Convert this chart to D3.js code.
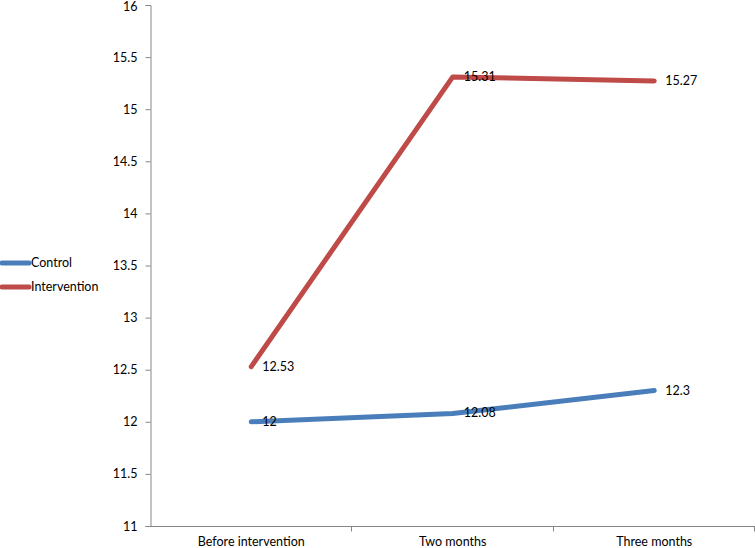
<!DOCTYPE html>
<meta charset="utf-8">
<style>
 body { margin: 0; background: #fff; }
 text {
   font-family: Lato, "Open Sans", sans-serif;
   font-size: 12.5px;
   fill: #000;
 }
 .axis path, .axis line { stroke: #868686; }
</style>
<svg width="755" height="548"></svg>
<script src="https://d3js.org/d3.v7.min.js"></script>
<script>

 var categories = ["Before intervention", "Two months", "Three months"];
 var control = [12, 12.08, 12.3];
 var intervention = [12.53, 15.31, 15.27];
 var yTicks = [11, 11.5, 12, 12.5, 13, 13.5, 14, 14.5, 15, 15.5, 16];

 var series = [
   { name: "Control", values: control, color: "#4a7ebb" },
   { name: "Intervention", values: intervention, color: "#be4b48" }
 ];

 var svg = d3.select("svg");

 var x = d3.scaleBand()
           .domain(categories)
           .range([150.5, 755]);

 var y = d3.scaleLinear()
           .domain([11, 16])
           .range([526, 5]);

 // y axis
 var yAxis = svg.append("g")
                .attr("class", "axis")
                .attr("transform", "translate(150.5,0)")
                .call(d3.axisLeft(y).tickValues(yTicks).tickSize(5).tickPadding(8)
                        .tickFormat(function(d) { return d3.format("")(d); }));
 yAxis.selectAll("text").style("font-size", "12.5px").attr("fill", "#000");
 yAxis.selectAll(".tick").filter(function(d) { return d === 16; })
      .select("text").attr("dy", "0.38em").attr("y", 1);

 // x axis, ticks on band boundaries
 var xAxis = svg.append("g")
                .attr("class", "axis")
                .attr("transform", "translate(0,526.5)");
 xAxis.append("line")
      .attr("x1", 150.5).attr("x2", 755)
      .attr("stroke", "#868686");
 xAxis.selectAll(".tk")
      .data(categories)
      .enter().append("line")
      .attr("x1", function(d) { return Math.round(x(d) + x.bandwidth()) - 0.5; })
      .attr("x2", function(d) { return Math.round(x(d) + x.bandwidth()) - 0.5; })
      .attr("y1", 0).attr("y2", 5)
      .attr("stroke", "#868686");
 xAxis.selectAll(".lbl")
      .data(categories)
      .enter().append("text")
      .attr("x", function(d) { return x(d) + x.bandwidth() / 2; })
      .attr("y", 19.5)
      .attr("text-anchor", "middle")
      .text(function(d) { return d; });

 var line = d3.line()
              .x(function(d, i) { return x(categories[i]) + x.bandwidth() / 2; })
              .y(function(d) { return y(d); });

 var g = svg.append("g");
 series.forEach(function(s) {
   g.append("path")
    .datum(s.values)
    .attr("fill", "none")
    .attr("stroke", s.color)
    .attr("stroke-width", 5)
    .attr("stroke-linecap", "round")
    .attr("stroke-linejoin", "round")
    .attr("d", line);
 });

 // data labels
 series.forEach(function(s) {
   g.selectAll(null)
    .data(s.values)
    .enter().append("text")
    .attr("x", function(d, i) { return x(categories[i]) + x.bandwidth() / 2 + 11; })
    .attr("y", function(d) { return y(d) + 4; })
    .text(function(d) { return d; });
 });

 // legend
 var legend = svg.append("g")
                 .selectAll("g")
                 .data(series)
                 .enter().append("g")
                 .attr("transform", function(d, i) { return "translate(0," + (263 + i * 24) + ")"; });
 legend.append("line")
       .attr("x1", 2).attr("x2", 29)
       .attr("stroke", function(d) { return d.color; })
       .attr("stroke-width", 5)
       .attr("stroke-linecap", "round");
 legend.append("text")
       .attr("x", 31)
       .attr("y", 4)
       .text(function(d) { return d.name; });
</script>
